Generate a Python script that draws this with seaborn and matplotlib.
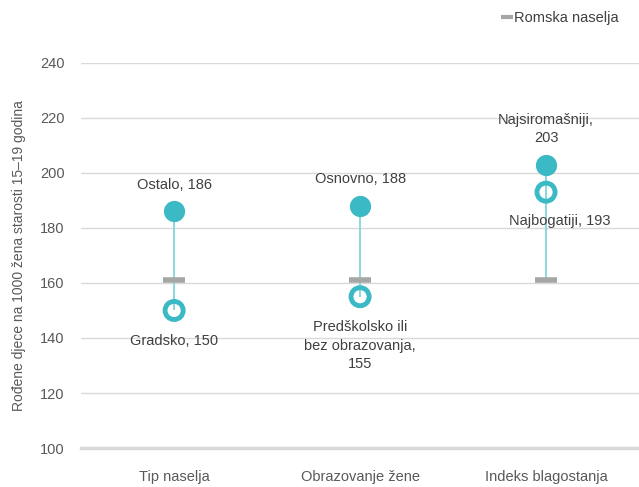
import matplotlib.pyplot as plt
import pandas as pd
import seaborn as sns
from matplotlib.lines import Line2D

# Data
categories = ['Tip naselja', 'Obrazovanje žene', 'Indeks blagostanja']
high_values = [186, 188, 203]
low_values = [150, 155, 193]
roma_values = [161, 161, 161]
high_labels = ['Ostalo, 186', 'Osnovno, 188', 'Najsiromašniji,\n203']
low_labels = ['Gradsko, 150', 'Predškolsko ili\nbez obrazovanja,\n155', 'Najbogatiji, 193']

df = pd.DataFrame({
    'cat': categories,
    'high': high_values,
    'low': low_values,
    'roma': roma_values,
})

sns.set_style('white')
plt.rcParams['font.family'] = ['Liberation Sans', 'DejaVu Sans']

teal = '#3bbac6'
line_teal = '#86d4d9'
grey = '#a6a6a6'
text_col = '#404040'

fig = plt.figure(figsize=(6.39, 4.87), dpi=100)
ax = fig.add_axes([0.127, 0.080, 0.873, 0.791])

x = range(len(categories))
lo = df[['high', 'low', 'roma']].min(axis=1)
hi = df[['high', 'low', 'roma']].max(axis=1)
ax.vlines(x, lo, hi, color=line_teal, lw=1.3, zorder=2)

sns.scatterplot(data=df, x='cat', y='roma', marker='_', s=260, linewidth=4,
                color=grey, ax=ax, zorder=3, legend=False)
sns.scatterplot(data=df, x='cat', y='high', s=200, color=teal, edgecolor=teal,
                ax=ax, zorder=4, legend=False)
sns.scatterplot(data=df, x='cat', y='low', s=170, facecolor='none', edgecolor=teal,
                linewidth=3.5, ax=ax, zorder=4, legend=False)

# Labels
for i in range(len(categories)):
    ax.annotate(high_labels[i], (i, high_values[i]), xytext=(0, 14),
                textcoords='offset points', ha='center', va='bottom',
                fontsize=10.5, color=text_col, linespacing=1.4)
for i in range(len(categories)):
    if i == 2:
        ax.annotate(low_labels[i], (i, low_values[i]), xytext=(-27, -16),
                    textcoords='offset points', ha='left', va='top',
                    fontsize=10.5, color=text_col)
    else:
        ax.annotate(low_labels[i], (i, low_values[i]), xytext=(0, -17),
                    textcoords='offset points', ha='center', va='top',
                    fontsize=10.5, color=text_col, linespacing=1.4)

ax.set_xlim(-0.5, 2.5)
ax.set_ylim(100, 240)
ax.set_yticks(range(100, 241, 20))
ax.grid(axis='y', color='#d9d9d9', lw=1)
ax.set_axisbelow(True)
for s in ['top', 'right', 'left']:
    ax.spines[s].set_visible(False)
ax.spines['bottom'].set_color('#d9d9d9')
ax.spines['bottom'].set_linewidth(2.5)
ax.tick_params(axis='both', length=0, labelsize=10.5, labelcolor='#595959')
ax.tick_params(axis='x', pad=16)
ax.tick_params(axis='y', pad=12)
ax.set_xlabel('')
ax.set_ylabel('Rođene djece na 1000 žena starosti 15–19 godina',
              fontsize=10, color='#595959', labelpad=10)
for c in ax.collections:
    c.set_clip_on(False)

handle = Line2D([], [], marker='_', color=grey, ls='none', markersize=8, mew=3)
fig.legend([handle], ['Romska naselja'], loc='upper right',
           bbox_to_anchor=(0.988, 1.005), frameon=False, fontsize=10.5,
           handlelength=0.5, handletextpad=0.2, labelcolor='#404040')

fig.savefig('out.png', dpi=100)
